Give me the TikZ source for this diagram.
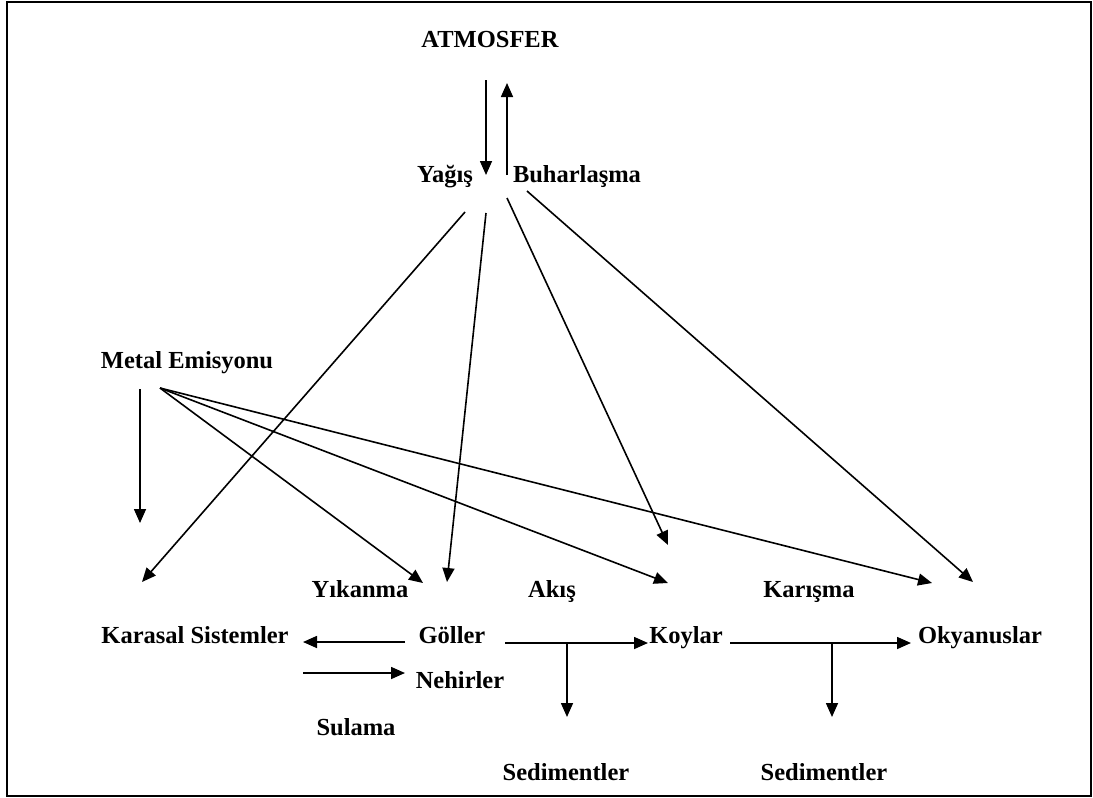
\documentclass[tikz,border=0pt]{standalone}
\usepackage{fontspec}
\setmainfont{Liberation Serif}
\usetikzlibrary{positioning,arrows.meta}

\begin{document}
\begin{tikzpicture}[
    x=1pt, y=-1pt,
    lbl/.style={draw=none, inner sep=0pt, anchor=base,
        font=\fontsize{24.5}{28}\selectfont\bfseries},
    arr/.style={-{Triangle[length=14pt,width=12pt]}, line width=1.6pt}
]
\useasboundingbox (0,0) rectangle (1093,798);
\draw[line width=2.8pt] (7,2) rectangle (1091,796);

% labels
\node (Atmosfer) [lbl] at (490,47) {ATMOSFER};
\node (Yagis) [lbl] at (445,182) {Yağış};
\node (Buhar) [lbl] at (577,182) {Buharlaşma};
\node (Metal) [lbl] at (187,368) {Metal Emisyonu};
\node (Yikanma) [lbl] at (360,597) {Yıkanma};
\node (Akis) [lbl] at (552,597) {Akış};
\node (Karisma) [lbl] at (809,597) {Karışma};
\node (Karasal) [lbl] at (195,643) {Karasal Sistemler};
\node (Goller) [lbl] at (452,643) {Göller};
\node (Koylar) [lbl] at (686,643) {Koylar};
\node (Okyanus) [lbl] at (980,643) {Okyanuslar};
\node (Nehir) [lbl] at (460,688) {Nehirler};
\node (Sulama) [lbl] at (356,735) {Sulama};
\node (SedA) [lbl] at (566,780) {Sedimentler};
\node (SedB) [lbl] at (824,780) {Sedimentler};

% end points
\coordinate (atmDown) at (486,80);
\coordinate (yagisTip) at (486,175);
\coordinate (buharFoot) at (507,175);
\coordinate (atmTip) at (507,83);
\coordinate (metalFoot) at (140,389);
\coordinate (metalTip) at (140,523);
\coordinate (metalSrc) at (160,388);
\coordinate (gollerM) at (423,583);
\coordinate (koylarM) at (668,583);
\coordinate (okyanusM) at (932,583);
\coordinate (yg1) at (465,212);
\coordinate (yg2) at (486,213);
\coordinate (yg3) at (507,198);
\coordinate (yg4) at (527,191);
\coordinate (karasalY) at (142,582);
\coordinate (gollerY) at (447,582);
\coordinate (koylarY) at (668,545);
\coordinate (okyanusY) at (973,582);
\coordinate (gollerOut) at (405,642);
\coordinate (karasalIn) at (303,642);
\coordinate (sulamaOut) at (303,673);
\coordinate (nehirIn) at (405,673);
\coordinate (gollerR) at (505,643);
\coordinate (koylarIn) at (648,643);
\coordinate (akisSplit) at (567,643);
\coordinate (sedATip) at (567,717);
\coordinate (koylarR) at (730,643);
\coordinate (okyanusIn) at (911,643);
\coordinate (karismaSplit) at (832,643);
\coordinate (sedBTip) at (832,717);

% atmosfer
\draw[arr] (atmDown) -- (yagisTip);
\draw[arr] (buharFoot) -- (atmTip);

% metal emisyonu
\draw[arr] (metalFoot) -- (metalTip);
\draw[arr] (metalSrc) -- (gollerM);
\draw[arr] (metalSrc) -- (koylarM);
\draw[arr] (metalSrc) -- (okyanusM);

% yagis
\draw[arr] (yg1) -- (karasalY);
\draw[arr] (yg2) -- (gollerY);
\draw[arr] (yg3) -- (koylarY);
\draw[arr] (yg4) -- (okyanusY);

% bottom row
\draw[arr] (gollerOut) -- (karasalIn);
\draw[arr] (sulamaOut) -- (nehirIn);
\draw[arr] (gollerR) -- (koylarIn);
\draw[arr] (akisSplit) -- (sedATip);
\draw[arr] (koylarR) -- (okyanusIn);
\draw[arr] (karismaSplit) -- (sedBTip);
\end{tikzpicture}
\end{document}
